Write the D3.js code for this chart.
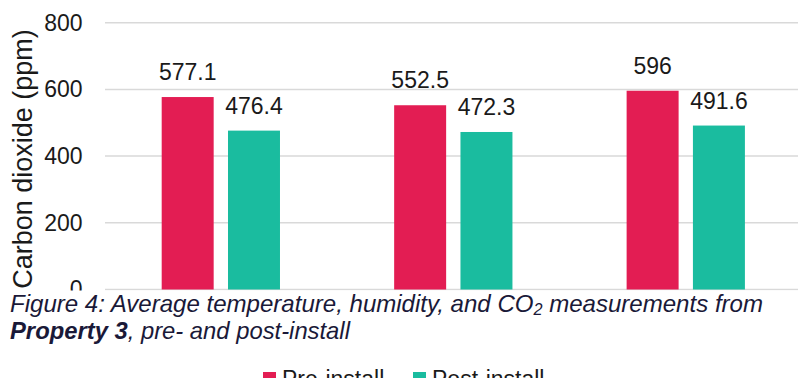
<!DOCTYPE html>
<html>
<head>
<meta charset="utf-8">
<script src="https://cdn.jsdelivr.net/npm/d3@7"></script>
<style>
  html, body { margin: 0; padding: 0; background: #fff; }
  svg { display: block; font-family: "Liberation Sans", Arial, sans-serif; }
</style>
</head>
<body>
<svg id="chart" width="798" height="381"></svg>
<script>
// data
const categories = ["Group 1", "Group 2", "Group 3"];
const series = ["Pre-install", "Post-install"];
const pre_values = [577.1, 552.5, 596];
const post_values = [476.4, 472.3, 491.6];
const y_ticks = [0, 200, 400, 600, 800];
const colors = ["#e31d53", "#1abc9f"];

//  draw
function draw_chart() {
  const margin = ({top: 22.7, right: -4, bottom: 91.5, left: 104.6});
  const svg = d3.select("#chart");
  const w = 798, h = 381;

  const rows = categories.map((c, i) => ({cat: c, vals: [pre_values[i], post_values[i]]}));

  const x0 = d3.scaleBand().domain(categories).range([margin.left, w - margin.right]);
  const x1 = d3.scaleBand().domain(series).range([0, x0.bandwidth()])
    .paddingInner(0.216).paddingOuter(0.861);
  const y = d3.scaleLinear().domain([0, 800]).range([h - margin.bottom, margin.top]);

  // grid
  svg.append("g")
    .selectAll("line")
    .data(y_ticks)
    .join("line")
      .attr("x1", 105).attr("x2", w)
      .attr("y1", d => y(d)).attr("y2", d => y(d))
      .attr("stroke", "#d9d9d9")
      .attr("stroke-width", 1.5);

  // y axis labels
  const yAxis = g => g
    .attr("transform", `translate(${margin.left - 8},0)`)
    .call(d3.axisLeft(y).tickValues(y_ticks).tickSize(0).tickPadding(14))
    .call(g => g.select(".domain").remove())
    .call(g => g.selectAll("text")
      .attr("font-size", 23)
      .attr("font-family", "Liberation Sans, Arial, sans-serif")
      .attr("fill", "#1a1a1a"));
  svg.append("g").call(yAxis);

  svg.append("text")
    .attr("transform", `translate(32,159) rotate(-90)`)
    .attr("text-anchor", "middle")
    .attr("font-size", 27)
    .attr("fill", "#1a1a1a")
    .text("Carbon dioxide (ppm)");

  // bars
  const grp = svg.append("g")
    .selectAll("g")
    .data(rows)
    .join("g")
      .attr("transform", d => `translate(${x0(d.cat)},0)`);

  grp.selectAll("rect")
    .data(d => d.vals.map((v, i) => ({s: series[i], v: v, i: i})))
    .join("rect")
      .attr("x", d => x1(d.s))
      .attr("width", x1.bandwidth())
      .attr("y", d => y(d.v))
      .attr("height", d => y(0) - y(d.v))
      .attr("fill", d => colors[d.i]);

  grp.selectAll("text")
    .data(d => d.vals.map((v, i) => ({s: series[i], v: v, i: i})))
    .join("text")
      .attr("x", d => x1(d.s) + x1.bandwidth() / 2)
      .attr("y", d => y(d.v) - 17)
      .attr("text-anchor", "middle")
      .attr("font-size", 23)
      .attr("fill", "#1a1a1a")
      .text(d => String(d.v));

  // caption block sits over the bottom of the chart
  svg.append("rect")
    .attr("x", 0).attr("y", 290.5).attr("width", w).attr("height", 70)
    .attr("fill", "#fff");

  const cap = svg.append("g").attr("fill", "#1a1938").attr("font-size", 23.8).attr("font-style", "italic");
  const l1 = cap.append("text").attr("x", 10).attr("y", 312)
    .attr("textLength", 753).attr("lengthAdjust", "spacingAndGlyphs");
  l1.append("tspan").text("Figure 4: Average temperature, humidity, and CO");
  l1.append("tspan").attr("font-size", 16).attr("dy", 3).text("2");
  l1.append("tspan").attr("dy", -3).text(" measurements from");

  const l2 = cap.append("text").attr("x", 10).attr("y", 339);
  l2.append("tspan").attr("font-weight", "bold").text("Property 3");
  l2.append("tspan").text(", pre- and post-install");

  // legend, cut off at the bottom
  const legend_x = [263, 413];
  const lg = svg.append("g")
    .selectAll("g")
    .data(series)
    .join("g")
      .attr("transform", (d, i) => `translate(${legend_x[i]},372)`);
  lg.append("rect").attr("width", 13).attr("height", 13).attr("fill", (d, i) => colors[i]);
  lg.append("text")
    .attr("x", 19).attr("y", 14.5)
    .attr("font-size", 23)
    .attr("fill", "#1a1a1a")
    .text(d => d);

  svg.append("rect")
    .attr("x", 0).attr("y", 378).attr("width", w).attr("height", 3)
    .attr("fill", "#fff");
}

draw_chart();
</script>
</body>
</html>
